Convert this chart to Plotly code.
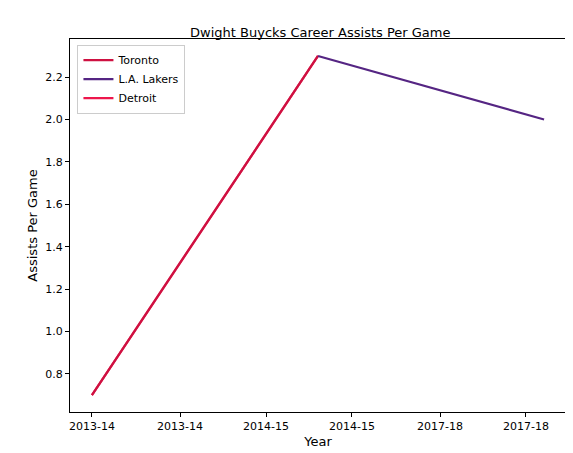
import plotly.graph_objects as go

# seasons indexed 0..2 (matplotlib-style numeric x)
toronto_x = [0, 1]
toronto_y = [0.7, 2.3]
lakers_x = [1, 2]
lakers_y = [2.3, 2.0]
detroit_x = [0, 1]
detroit_y = [0.7, 2.3]

tick_vals = [0, 0.39, 0.77, 1.15, 1.54, 1.92]
tick_text = ["2013-14", "2013-14", "2014-15", "2014-15", "2017-18", "2017-18"]
y_ticks = [0.8, 1.0, 1.2, 1.4, 1.6, 1.8, 2.0, 2.2]

fig = go.Figure()
# Detroit drawn first so Toronto covers it, but listed last in the legend
fig.add_trace(go.Scatter(x=detroit_x, y=detroit_y, mode="lines", name="Detroit",
                         line=dict(color="#ED174C", width=2.2), legendrank=3))
fig.add_trace(go.Scatter(x=toronto_x, y=toronto_y, mode="lines", name="Toronto",
                         line=dict(color="#CE1141", width=2.2), legendrank=1))
fig.add_trace(go.Scatter(x=lakers_x, y=lakers_y, mode="lines", name="L.A. Lakers",
                         line=dict(color="#552583", width=2.2), legendrank=2))

axis_common = dict(showgrid=False, zeroline=False, showline=True, mirror=True,
                   linecolor="black", linewidth=1, ticks="outside", ticklen=4,
                   tickcolor="black", tickfont=dict(size=11, color="black"),
                   automargin=False)

fig.update_layout(
    width=573, height=453,
    paper_bgcolor="white", plot_bgcolor="white",
    font=dict(family="DejaVu Sans", size=11, color="black"),
    title=dict(text="Dwight Buycks Career Assists Per Game", x=0.545, xanchor="center",
               y=0.955, font=dict(size=13)),
    margin=dict(l=62, r=15, t=31, b=49),
    xaxis=dict(range=[-0.097, 2.097], tickvals=tick_vals, ticktext=tick_text,
               title=dict(text="Year", standoff=4), **axis_common),
    yaxis=dict(range=[0.62, 2.38], tickvals=y_ticks, tickformat=".1f",
               title=dict(text="Assists Per Game", standoff=4), **axis_common),
    legend=dict(x=0.015, y=0.985, xanchor="left", yanchor="top",
                bgcolor="white", bordercolor="#cccccc", borderwidth=1,
                font=dict(size=11), traceorder="normal"),
    showlegend=True,
)
fig.write_html("out.html")
